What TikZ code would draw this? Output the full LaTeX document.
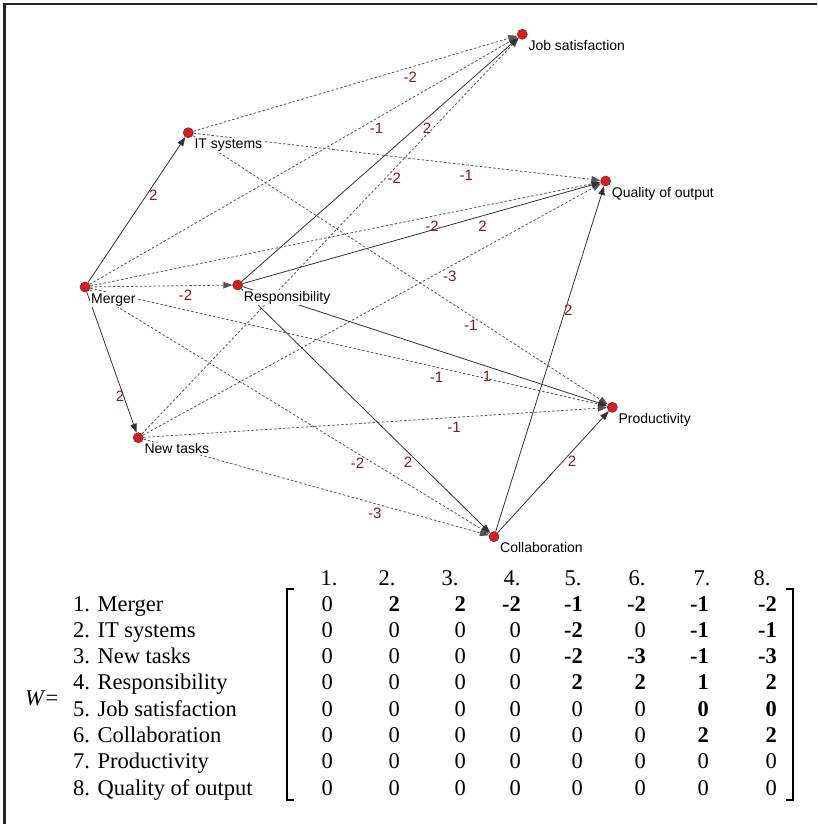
\documentclass[tikz,border=0pt]{standalone}
\usepackage{fontspec}
\setmainfont{Liberation Serif}
\newfontfamily\arialfont{Liberation Sans}
\usetikzlibrary{arrows.meta}

\definecolor{dotred}{RGB}{232,22,22}
\definecolor{wtred}{RGB}{140,24,24}
\definecolor{dashgray}{RGB}{85,85,85}

\tikzset{
  dot/.style={circle, fill=dotred, draw=black!75, line width=0.6pt, inner sep=0pt, minimum size=10pt},
  txt/.style={anchor=base west, fill=white, inner sep=1pt, font=\arialfont\fontsize{14}{16}\selectfont},
  posarc/.style={draw=black!80, line width=0.8pt, -{Triangle[length=9pt, width=6.5pt]}},
  negarc/.style={draw=dashgray, line width=0.8pt, dash pattern=on 2.5pt off 2pt, -{Triangle[length=9pt, width=6.5pt]}},
  wt/.style={pos=0.67, yshift=-10pt, text=wtred, inner sep=0pt, font=\arialfont\fontsize{15}{17}\selectfont},
  mtxt/.style={inner sep=0pt, font=\fontsize{22.5}{26}\selectfont}
}

\begin{document}
\begin{tikzpicture}[x=1pt, y=-1pt]
   \useasboundingbox (0,0) rectangle (817,824);
   \draw[line width=2.7pt, black!85] (4.7,824) -- (4.7,4) -- (817,4);

   % Concepts
   \node[dot] (merger)   at (85,287) {};
   \node[dot] (itsys)    at (188.3,132.7) {};
   \node[dot] (newtasks) at (138.3,437.7) {};
   \node[dot] (resp)     at (237.7,285) {};
   \node[dot] (jobsat)   at (522.3,34.3) {};
   \node[dot] (collab)   at (494,536.7) {};
   \node[dot] (prod)     at (612.3,407.3) {};
   \node[dot] (quality)  at (605.7,181) {};

   % Weighted arcs (solid = positive, dashed = negative)
   \draw[posarc] (merger) -- (itsys) node[wt] (w12) {2};
   \draw[posarc] (merger) -- (newtasks) node[wt] (w13) {2};
   \draw[negarc] (merger) -- (resp) node[wt] (w14) {-2};
   \draw[negarc] (merger) -- (jobsat) node[wt] (w15) {-1};
   \draw[negarc] (merger) -- (collab) node[wt] (w16) {-2};
   \draw[negarc] (merger) -- (prod) node[wt] (w17) {-1};
   \draw[negarc] (merger) -- (quality) node[wt] (w18) {-2};
   \draw[negarc] (itsys) -- (jobsat) node[wt] (w25) {-2};
   \draw[negarc] (itsys) -- (prod) node[wt] (w27) {-1};
   \draw[negarc] (itsys) -- (quality) node[wt] (w28) {-1};
   \draw[negarc] (newtasks) -- (jobsat) node[wt] (w35) {-2};
   \draw[negarc] (newtasks) -- (collab) node[wt] (w36) {-3};
   \draw[negarc] (newtasks) -- (prod) node[wt] (w37) {-1};
   \draw[negarc] (newtasks) -- (quality) node[wt] (w38) {-3};
   \draw[posarc] (resp) -- (jobsat) node[wt] (w45) {2};
   \draw[posarc] (resp) -- (collab) node[wt] (w46) {2};
   \draw[posarc] (resp) -- (prod) node[wt] (w47) {1};
   \draw[posarc] (resp) -- (quality) node[wt] (w48) {2};
   \draw[posarc] (collab) -- (prod) node[wt] (w67) {2};
   \draw[posarc] (collab) -- (quality) node[wt] (w68) {2};

   % Concept names
   \node[txt] (merger-t)   at ([xshift=5pt, yshift=-16pt]merger.center) {Merger};
   \node[txt] (itsys-t)    at ([xshift=5pt, yshift=-16pt]itsys.center) {IT systems};
   \node[txt] (newtasks-t) at ([xshift=5pt, yshift=-16pt]newtasks.center) {New tasks};
   \node[txt] (resp-t)     at ([xshift=5pt, yshift=-16pt]resp.center) {Responsibility};
   \node[txt] (jobsat-t)   at ([xshift=5pt, yshift=-16pt]jobsat.center) {Job satisfaction};
   \node[txt] (collab-t)   at ([xshift=5pt, yshift=-16pt]collab.center) {Collaboration};
   \node[txt] (prod-t)     at ([xshift=5pt, yshift=-16pt]prod.center) {Productivity};
   \node[txt] (quality-t)  at ([xshift=5pt, yshift=-16pt]quality.center) {Quality of output};

   % Weight matrix
   \node[mtxt, anchor=base west] (wlabel) at (25,705.5) {\textit{W}=};
   \foreach \c/\x in {1/329, 2/387, 3/450, 4/512, 5/573, 6/637, 7/702, 8/762}
     \node[mtxt, anchor=base] (h\c) at (\x,585) {\c.};
   \foreach \r/\name in {1/Merger, 2/IT systems, 3/New tasks, 4/Responsibility,
                         5/Job satisfaction, 6/Collaboration, 7/Productivity, 8/Quality of output}
     \node[mtxt, anchor=base west] (row\r) at (73,{611+26.29*(\r-1)}) {\r. \name};
   \foreach \r/\vals in {
       1/{0,\textbf{2},\textbf{2},\textbf{-2},\textbf{-1},\textbf{-2},\textbf{-1},\textbf{-2}},
       2/{0,0,0,0,\textbf{-2},0,\textbf{-1},\textbf{-1}},
       3/{0,0,0,0,\textbf{-2},\textbf{-3},\textbf{-1},\textbf{-3}},
       4/{0,0,0,0,\textbf{2},\textbf{2},\textbf{1},\textbf{2}},
       5/{0,0,0,0,0,0,\textbf{0},\textbf{0}},
       6/{0,0,0,0,0,0,\textbf{2},\textbf{2}},
       7/{0,0,0,0,0,0,0,0},
       8/{0,0,0,0,0,0,0,0}}
     \foreach \v [count=\c] in \vals {
       \pgfmathsetmacro{\xr}{{333,400,466,521,583,646,709,777}[\c-1]}
       \node[mtxt, anchor=base east] (m\r\c) at (\xr,{611+26.29*(\r-1)}) {\v};
     };
   \draw[line width=1.2pt] (294,589) -- (287,589) -- (287,800) -- (294,800);
   \draw[line width=1.2pt] (786,589) -- (793,589) -- (793,800) -- (786,800);
\end{tikzpicture}
\end{document}
